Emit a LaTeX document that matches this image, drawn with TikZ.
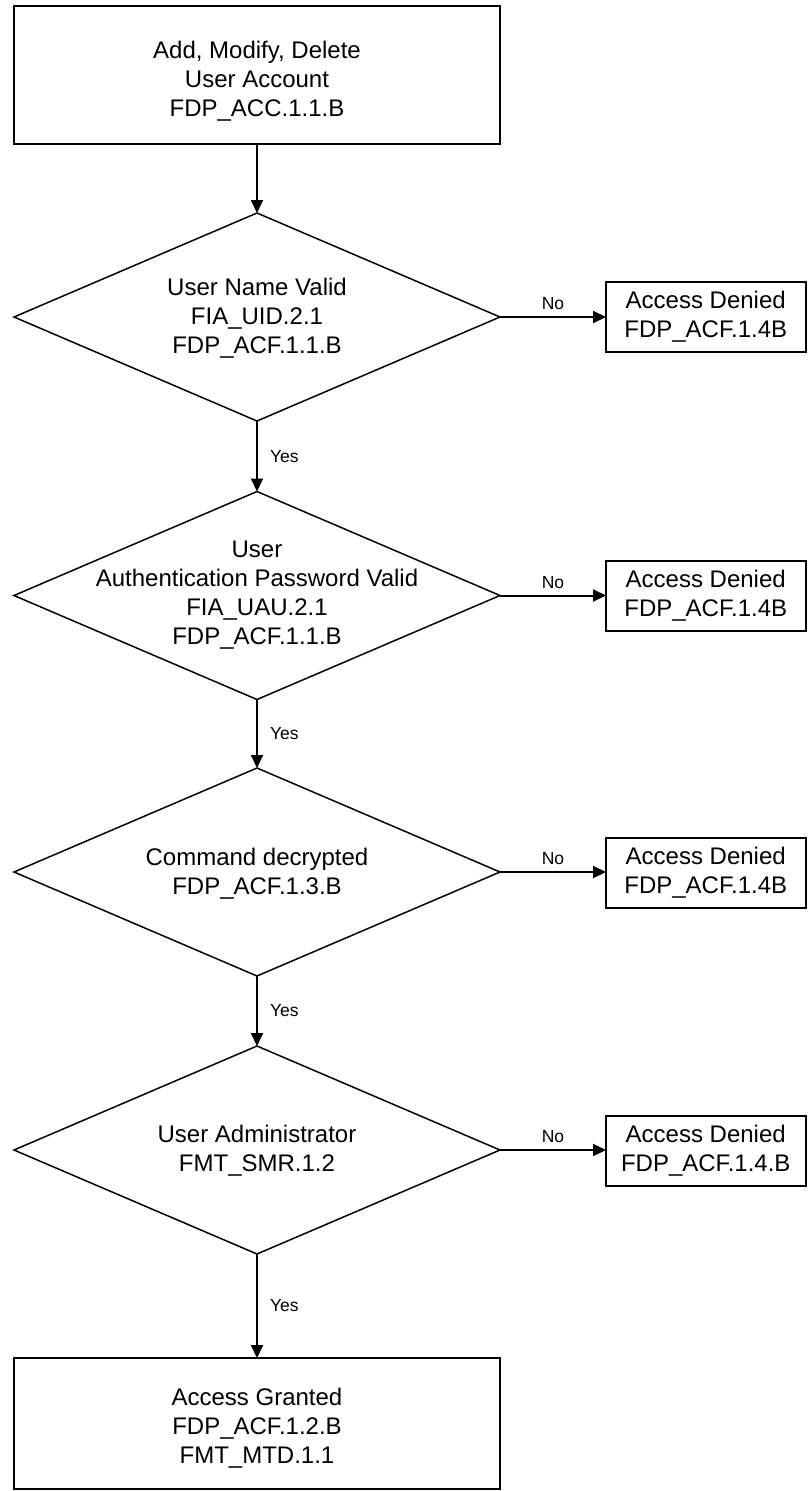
\documentclass[tikz,border=0pt]{standalone}
\usepackage{fontspec}
\setmainfont{Liberation Sans}
\usetikzlibrary{shapes.geometric,arrows.meta}
\begin{document}
\begin{tikzpicture}[x=1pt,y=-1pt,
  box/.style={draw, line width=2pt, rectangle, minimum width=486pt, inner sep=0pt, outer sep=0pt},
  dia/.style={draw, line width=1.5pt, diamond, minimum width=486pt, minimum height=208pt, inner sep=0pt, outer sep=0pt},
  deny/.style={draw, line width=2pt, rectangle, minimum width=199.5pt, minimum height=70pt, inner sep=0pt, outer sep=0pt, align=center, font=\fontsize{24pt}{28.8pt}\selectfont},
  txt/.style={align=center, inner sep=0pt, font=\fontsize{24pt}{28.8pt}\selectfont},
  lbl/.style={inner sep=0pt, font=\fontsize{17.5pt}{20pt}\selectfont},
  arr/.style={line width=2pt, -{Triangle[width=12pt,length=13pt]}}
]
\useasboundingbox (0,0) rectangle (807,1491);

% main column
\node[box, minimum height=138pt] (start) at (257,75) {};
\node[txt] (starttext) at (257,81) {Add, Modify, Delete\\User Account\\FDP\_ACC.1.1.B};

\node[dia] (d1) at (257,317) {};
\node[txt] (d1text) at (257,318) {User Name Valid\\FIA\_UID.2.1\\FDP\_ACF.1.1.B};

\node[dia] (d2) at (257,595.5) {};
\node[txt] (d2text) at (257,595) {User\\Authentication Password Valid\\FIA\_UAU.2.1\\FDP\_ACF.1.1.B};

\node[dia] (d3) at (257,872) {};
\node[txt] (d3text) at (257,874) {Command decrypted\\FDP\_ACF.1.3.B};

\node[dia] (d4) at (257,1150) {};
\node[txt] (d4text) at (257,1151) {User Administrator\\FMT\_SMR.1.2};

\node[box, minimum height=131pt] (granted) at (257,1423.5) {};
\node[txt] (grantedtext) at (257,1428) {Access Granted\\FDP\_ACF.1.2.B\\FMT\_MTD.1.1};

% denied boxes
\node[deny] (n1) at (705.75,317) {Access Denied\\FDP\_ACF.1.4B};
\node[deny] (n2) at (705.75,595.5) {Access Denied\\FDP\_ACF.1.4B};
\node[deny] (n3) at (705.75,873) {Access Denied\\FDP\_ACF.1.4B};
\node[deny] (n4) at (705.75,1151) {Access Denied\\FDP\_ACF.1.4.B};

% connectors
\draw[arr] (start.south) -- (d1.north);
\draw[arr] (d1.south) -- node[lbl, anchor=west, xshift=12pt] {Yes} (d2.north);
\draw[arr] (d2.south) -- node[lbl, anchor=west, xshift=12pt] {Yes} (d3.north);
\draw[arr] (d3.south) -- node[lbl, anchor=west, xshift=12pt] {Yes} (d4.north);
\draw[arr] (d4.south) -- node[lbl, anchor=west, xshift=12pt] {Yes} (granted.north);

\draw[arr] (d1.east) -- node[lbl, above=6pt] {No} (d1.east -| n1.west);
\draw[arr] (d2.east) -- node[lbl, above=6pt] {No} (d2.east -| n2.west);
\draw[arr] (d3.east) -- node[lbl, above=6pt] {No} (d3.east -| n3.west);
\draw[arr] (d4.east) -- node[lbl, above=6pt] {No} (d4.east -| n4.west);
\end{tikzpicture}
\end{document}
